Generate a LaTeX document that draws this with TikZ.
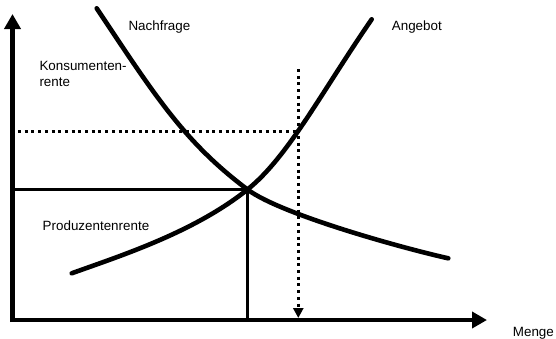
\documentclass[tikz,border=0pt]{standalone}
\usepackage{fontspec}
\setmainfont{Liberation Sans}
\usetikzlibrary{arrows.meta}
\begin{document}
\begin{tikzpicture}[x=1pt,y=-1pt,
  axis/.style={line width=4.6pt,-{Triangle[length=15pt,width=16pt]}},
  curve/.style={line width=4.6pt,line cap=round},
  guide/.style={line width=2.3pt},
  dots/.style={line width=3pt,dash pattern=on 3pt off 3.7pt},
  lbl/.style={font=\fontsize{13.4}{16}\selectfont,anchor=base west,inner sep=0pt,align=left}]
\useasboundingbox (0,0) rectangle (556,338);
% named points
\coordinate (ytip) at (12.5,14);
\coordinate (xtip) at (487,320);
\coordinate (E) at (247.5,189.5);
\coordinate (Ey) at (12,189.5);
\coordinate (Ex) at (247.5,320);
\coordinate (Dy) at (18,131.7);
\coordinate (Dc) at (298.3,131.7);
\coordinate (Dtop) at (298.3,69);
\coordinate (Dbot) at (298.3,318);
\coordinate (Ds) at (96.7,8.3);
\coordinate (De) at (448.3,258.3);
\coordinate (Ss) at (71.7,273.3);
\coordinate (Se) at (371.7,19.3);
% curves
\draw[curve] (Ds) .. controls (154.6,95.1) and (184,141.9) .. (E)
             .. controls (281.5,215) and (406.6,249.1) .. (De);
\draw[curve] (Ss) .. controls (120.9,255.6) and (194,232.3) .. (E)
             .. controls (288.1,157) and (321.5,92.1) .. (Se);
% guide lines
\draw[guide] (Ey) -- (E) -- (Ex);
\draw[dots] (Dy) -- (Dc);
\draw[dots,-{Triangle[length=10pt,width=10pt]}] (Dtop) -- (Dbot);
% axes
\draw[axis] (12.5,322) -- (ytip);
\draw[axis] (10.2,320) -- (xtip);
% labels
\node[lbl] (nach) at (128.3,30.5) {Nachfrage};
\node[lbl] (ang) at (391.7,30.5) {Angebot};
\node[lbl] (kons) at (39.3,86.5) {Konsumenten-\\rente};
\node[lbl] (prod) at (42.5,230) {Produzentenrente};
\node[lbl] (menge) at (512.7,336) {Menge};
\end{tikzpicture}
\end{document}
